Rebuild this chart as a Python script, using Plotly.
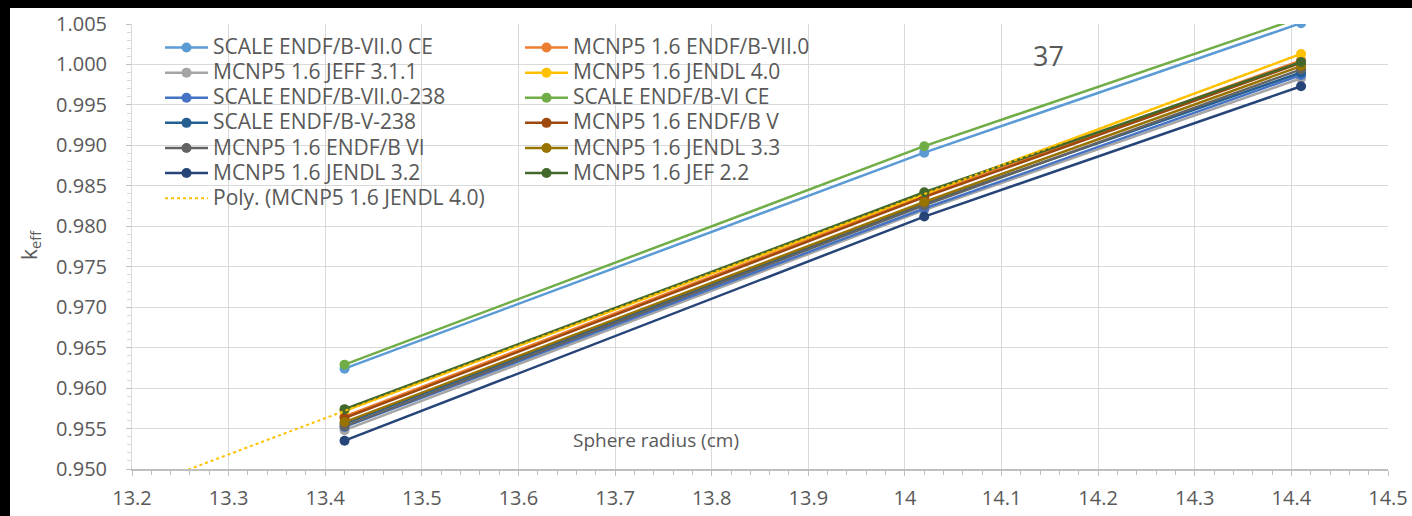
import numpy as np
import plotly.graph_objects as go

radius = [13.42, 14.02, 14.41]

series_names = [
    "SCALE ENDF/B-VII.0 CE", "MCNP5 1.6 ENDF/B-VII.0",
    "MCNP5 1.6 JEFF 3.1.1", "MCNP5 1.6 JENDL 4.0",
    "SCALE ENDF/B-VII.0-238", "SCALE ENDF/B-VI CE",
    "SCALE ENDF/B-V-238", "MCNP5 1.6 ENDF/B V",
    "MCNP5 1.6 ENDF/B VI", "MCNP5 1.6 JENDL 3.3",
    "MCNP5 1.6 JENDL 3.2", "MCNP5 1.6 JEF 2.2",
]

scale_vii_ce = [0.9624, 0.9891, 1.0051]
mcnp_vii = [0.9565, 0.9838, 1.0005]
mcnp_jeff311 = [0.9548, 0.9820, 0.9983]
mcnp_jendl40 = [0.9572, 0.9840, 1.0013]
scale_vii_238 = [0.9552, 0.9822, 0.9987]
scale_vi_ce = [0.9629, 0.9899, 1.0058]
scale_v_238 = [0.9556, 0.9828, 0.9990]
mcnp_endfb_v = [0.9563, 0.9836, 1.0002]
mcnp_endfb_vi = [0.9553, 0.9826, 0.9994]
mcnp_jendl33 = [0.9558, 0.9830, 0.9998]
mcnp_jendl32 = [0.9535, 0.9812, 0.9973]
mcnp_jef22 = [0.9574, 0.9842, 1.0003]

series_values = [
    scale_vii_ce, mcnp_vii, mcnp_jeff311, mcnp_jendl40,
    scale_vii_238, scale_vi_ce, scale_v_238, mcnp_endfb_v,
    mcnp_endfb_vi, mcnp_jendl33, mcnp_jendl32, mcnp_jef22,
]

colors = [
    "#5B9BD5", "#ED7D31", "#A5A5A5", "#FFC000",
    "#4472C4", "#70AD47", "#255E91", "#9E480E",
    "#636363", "#997300", "#264478", "#43682B",
]

poly_name = "Poly. (MCNP5 1.6 JENDL 4.0)"

FONT = "Open Sans"
TXT = "#595959"
LEG_SIZE = 21


def leg_label(s):
    return f"<span style='font-size:{LEG_SIZE}px'>{s}</span>"


fig = go.Figure()
for i, (name, vals, col) in enumerate(zip(series_names, series_values, colors)):
    fig.add_trace(go.Scatter(
        x=radius, y=vals, name=leg_label(name), mode="lines+markers",
        line=dict(color=col, width=2.5),
        marker=dict(color=col, size=10),
        legend="legend" if i % 2 == 0 else "legend2",
    ))

# polynomial (order 2) trendline for JENDL 4.0, with backward forecast
coef = np.polyfit(radius, mcnp_jendl40, 2)
xt = np.linspace(13.2, radius[-1], 100)
fig.add_trace(go.Scatter(
    x=xt, y=np.polyval(coef, xt), name=leg_label(poly_name), mode="lines",
    line=dict(color="#FFC000", width=2, dash="dot"), legend="legend",
))

# geometry (px) of plot area
L, R, T, B = 132, 24, 24, 47
W, H = 1412, 516
pw, ph = W - L - R, H - T - B


def px_x(x):
    return (x - L) / pw


def px_y(y):
    return (H - B - y) / ph


# black frame bands (top and left) as in the reference screenshot
fig.add_shape(type="rect", xref="paper", yref="paper",
              x0=px_x(-5), x1=px_x(W + 5), y0=px_y(8), y1=px_y(-5),
              fillcolor="black", line=dict(width=0), layer="above")
fig.add_shape(type="rect", xref="paper", yref="paper",
              x0=px_x(-5), x1=px_x(10), y0=px_y(H + 5), y1=px_y(-5),
              fillcolor="black", line=dict(width=0), layer="above")

fig.add_annotation(text="37", xref="paper", yref="paper", x=px_x(1048), y=px_y(55),
                   xanchor="center", yanchor="middle", showarrow=False,
                   font=dict(size=27, color=TXT, family=FONT))
fig.add_annotation(text="Sphere radius (cm)", xref="paper", yref="paper",
                   x=px_x(656), y=px_y(440), xanchor="center", yanchor="middle",
                   showarrow=False, font=dict(size=19, color=TXT, family=FONT))
fig.add_annotation(text="k<sub>eff</sub>", xref="paper", yref="paper",
                   x=px_x(30), y=px_y(245), xanchor="center", yanchor="middle",
                   showarrow=False, textangle=-90,
                   font=dict(size=21, color=TXT, family=FONT))

legend_common = dict(
    bgcolor="rgba(0,0,0,0)", borderwidth=0, itemwidth=43,
    font=dict(size=17, color=TXT, family=FONT),
    xanchor="left", yanchor="top", orientation="v", tracegroupgap=0,
)

fig.update_layout(
    width=W, height=H,
    margin=dict(l=L, r=R, t=T, b=B, autoexpand=False),
    paper_bgcolor="white", plot_bgcolor="white",
    showlegend=True,
    legend=dict(x=px_x(160), y=px_y(30), **legend_common),
    legend2=dict(x=px_x(520), y=px_y(30), **legend_common),
    xaxis=dict(
        range=[13.2, 14.5], dtick=0.1, tick0=13.2, automargin=False,
        showgrid=True, gridcolor="#D9D9D9", gridwidth=1,
        showline=True, linecolor="#BFBFBF", linewidth=1.5,
        ticks="outside", ticklen=5, tickcolor="#BFBFBF",
        minor=dict(dtick=0.02, ticks="outside", ticklen=4, tickcolor="#BFBFBF", showgrid=False),
        tickfont=dict(size=20, color=TXT, family=FONT),
        ticklabelstandoff=5,
        zeroline=False,
    ),
    yaxis=dict(
        range=[0.95, 1.005], dtick=0.005, tick0=0.95, tickformat=".3f", automargin=False,
        showgrid=True, gridcolor="#D9D9D9", gridwidth=1,
        showline=True, linecolor="#D9D9D9", linewidth=1,
        ticks="outside", ticklen=5, tickcolor="#BFBFBF",
        minor=dict(dtick=0.001, ticks="outside", ticklen=4, tickcolor="#D9D9D9", showgrid=False),
        tickfont=dict(size=20, color=TXT, family=FONT),
        ticklabelstandoff=15,
        zeroline=False,
    ),
)

fig.write_html("out.html")
